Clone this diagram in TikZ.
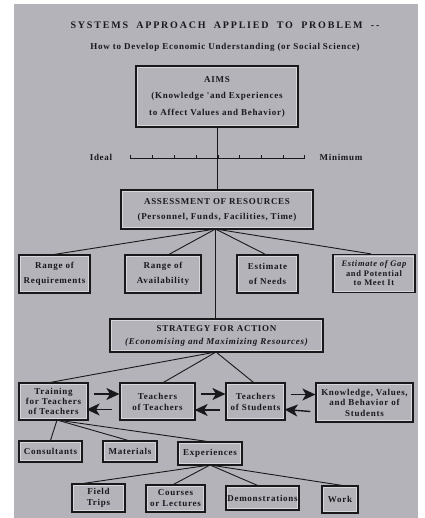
\documentclass[tikz,border=0pt]{standalone}
\usepackage{fontspec}
\setmainfont{Liberation Serif}
\newfontfamily\tw[LetterSpace=8]{Liberation Serif}
\newfontfamily\tth[LetterSpace=18]{Liberation Serif}
\usetikzlibrary{arrows.meta}
\definecolor{paper}{RGB}{180,179,185}
\definecolor{ink}{RGB}{25,25,28}
\definecolor{hil}{RGB}{215,214,218}
\newcommand\wsp{\hspace{4pt}}
\begin{document}
\begin{tikzpicture}[x=1pt,y=-1pt,
  box/.style 2 args={draw=ink, line width=1.2pt, minimum width=#1pt, minimum height=#2pt,
    inner sep=0pt, align=center, text=ink,
    path picture={\draw[hil, line width=0.6pt]
      ([shift={(1.6pt,-1.6pt)}]path picture bounding box.north west) rectangle
      ([shift={(-1.6pt,1.6pt)}]path picture bounding box.south east);}},
  con/.style={draw=ink, line width=0.9pt},
  arr/.style={draw=ink, line width=1.4pt, -{Stealth[length=13pt,width=12pt,inset=3.5pt]}},
  lbl/.style={text=ink, inner sep=0pt}]
\useasboundingbox (0,0) rectangle (424,518);
\fill[white] (0,0) rectangle (424,518);
\fill[paper] (14,4) rectangle (418,518);

% titles
\node[lbl, font=\fontsize{10}{11}\tth\bfseries] (title) at (225,25)
  {SYSTEMS\wsp{} APPROACH\wsp{} APPLIED\wsp{} TO\wsp{} PROBLEM\wsp{} --};
\node[lbl, font=\fontsize{9}{10}\tw\bfseries] (sub) at (225,47) {How to Develop Economic Understanding (or Social Science)};

% aims
\node[box={162}{61}, font=\fontsize{9}{16.5}\tw\bfseries] (aims) at (217,96.5)
  {AIMS\\(Knowledge 'and Experiences\\to Affect Values and Behavior)};

% scale
\node[lbl, font=\fontsize{9}{10}\tw\bfseries] (ideal) at (101,157) {Ideal};
\node[lbl, font=\fontsize{9}{10}\tw\bfseries] (minimum) at (341,157) {Minimum};
\coordinate (sl) at (130.5,158.5);
\coordinate (sr) at (304,158.5);
\draw[con] ([yshift=3.5pt]sl) -- (sl) -- (sr) -- ([yshift=3.5pt]sr);
\foreach \t in {152.5,174.5,196.5,218,239.5,261.5,283}
  \draw[con] (\t,158.5) -- (\t,155);

% assessment
\node[box={192}{39}, font=\fontsize{9}{15}\tw\bfseries] (assess) at (217,209.5)
  {ASSESSMENT OF RESOURCES\\(Personnel, Funds, Facilities, Time)};
\draw[con] (aims.south) -- (assess.north);

% four boxes
\node[box={71}{38}, font=\fontsize{9}{15}\tw\bfseries] (r1) at (54.5,274) {Range of\\Requirements};
\node[box={76}{38}, font=\fontsize{9}{15}\tw\bfseries] (r2) at (163,274) {Range of\\Availability};
\node[box={61}{38}, font=\fontsize{9}{15}\tw\bfseries] (r3) at (267.5,274) {Estimate\\of Needs};
\node[box={82}{38}, font=\fontsize{8.5}{9.5}\tw\bfseries] (r4) at (374,273.5) {\itshape Estimate of Gap\\and Potential\\to Meet It};
\coordinate (af) at (215.5,229);
\draw[con] (af) -- (r1.north);
\draw[con] (af) -- ([xshift=6pt]r2.north);
\draw[con] (af) -- ([xshift=-2pt]r3.north);
\draw[con] (af) -- ([xshift=-3pt]r4.north);

% strategy
\node[box={213}{33}, font=\fontsize{9}{13}\tw\bfseries] (strat) at (216.5,335.5)
  {STRATEGY FOR ACTION\\{\itshape(Economising and Maximizing Resources)}};
\draw[con] (af) -- (strat.north -| af);

% row
\node[box={69}{37}, font=\fontsize{9}{10}\tw\bfseries] (train) at (53.5,401.5) {Training\\for Teachers\\of Teachers};
\node[box={75}{37}, font=\fontsize{9}{11}\tw\bfseries] (tot) at (157.5,401.5) {Teachers\\of Teachers};
\node[box={59}{37}, font=\fontsize{9}{11}\tw\bfseries] (tos) at (255.5,401.5) {Teachers\\of Students};
\node[box={97}{39}, font=\fontsize{9}{10.5}\tw\bfseries] (know) at (364.5,402.5) {Knowledge, Values,\\and Behavior of\\Students};
\coordinate (sf) at (216,352);
\draw[con] (sf) -- ([xshift=-3pt]train.north);
\draw[con] (sf) -- ([xshift=6pt]tot.north);
\draw[con] (sf) -- ([xshift=-2pt]tos.north);

\draw[arr] ([shift={(5pt,7.5pt)}]train.east) -- ([yshift=7.5pt]tot.west);
\draw[arr] ([shift={(-7pt,-8pt)}]tot.west) -- ([shift={(-2pt,-8pt)}]train.east);
\draw[arr] ([shift={(5pt,7.5pt)}]tot.east) -- ([yshift=7.5pt]tos.west);
\draw[arr] ([shift={(-5pt,-8.5pt)}]tos.west) -- ([shift={(-1pt,-8.5pt)}]tot.east);
\draw[arr] ([shift={(5pt,7pt)}]tos.east) -- ([yshift=8pt]know.west);
\draw[arr] ([shift={(-5pt,-9pt)}]know.west) -- ([shift={(-1pt,-8pt)}]tos.east);

% second level
\node[box={63}{21}, font=\fontsize{9}{10}\tw\bfseries] (cons) at (50.5,451.5) {Consultants};
\node[box={54}{21}, font=\fontsize{9}{10}\tw\bfseries] (mat) at (130,451.5) {Materials};
\node[box={64}{23}, font=\fontsize{9}{10}\tw\bfseries] (exp) at (210,453.5) {Experiences};
\coordinate (tf) at (57,420);
\draw[con] (tf) -- (cons.north);
\draw[con] (tf) -- ([xshift=-2pt]mat.north);
\draw[con] (tf) -- ([xshift=-3pt]exp.north);

% third level
\node[box={53}{28}, font=\fontsize{9}{11}\tw\bfseries] (field) at (98.5,498) {Field\\Trips};
\node[box={59}{27}, font=\fontsize{9}{11}\tw\bfseries] (course) at (175.5,498.5) {Courses\\or Lectures};
\node[box={73}{24}, font=\fontsize{9}{10}\tw\bfseries] (demo) at (262.5,498) {Demonstrations};
\node[box={36}{27}, font=\fontsize{9}{10}\tw\bfseries] (work) at (340,499.5) {Work};
\coordinate (ef) at (210,465);
\draw[con] (ef) -- ([xshift=-15pt]field.north);
\draw[con] (ef) -- ([xshift=-2pt]course.north);
\draw[con] (ef) -- ([xshift=-5pt]demo.north);
\draw[con] (ef) -- ([xshift=2pt]work.north);
\end{tikzpicture}
\end{document}
